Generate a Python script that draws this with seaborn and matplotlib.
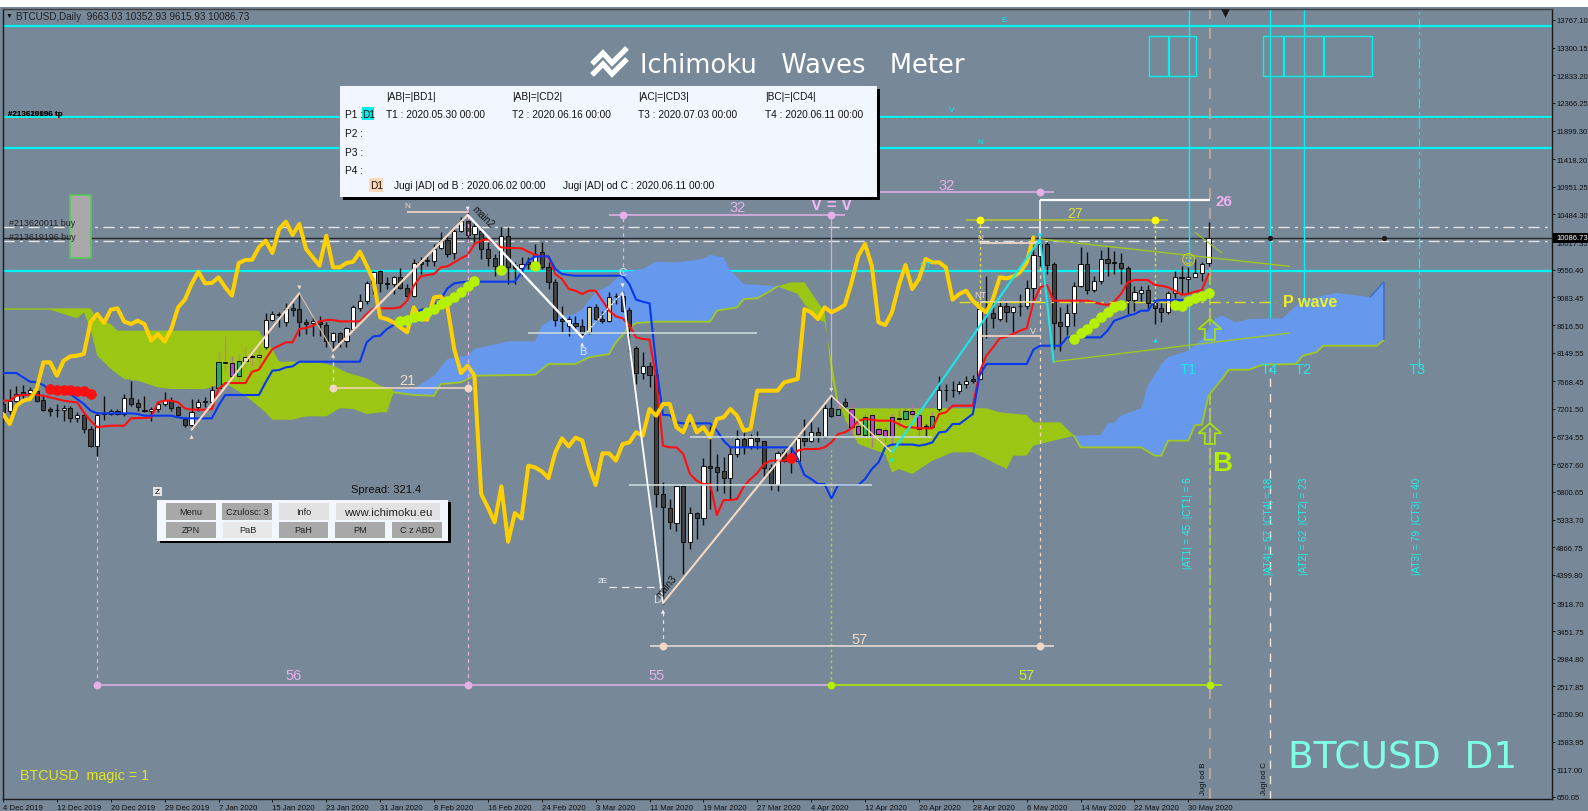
import numpy as np
import pandas as pd
import seaborn as sns
import matplotlib.pyplot as plt
from matplotlib.lines import Line2D
from matplotlib.patches import Rectangle, FancyArrow

sns.set_theme(style="white")
plt.rcParams['font.family'] = ['Liberation Sans', 'DejaVu Sans']

# %% candles
opens = [7284,7160,7340,7481,7470,7509,7357,7199,7188,7182,
         7216,7053,7098,6862,6580,7126,7120,7160,7109,7379,
         7295,7182,7160,7194,7289,7357,7228,7031,6929,7233,
         7312,7323,7548,7987,7976,7762,8015,8072,8083,8240,
         8707,8803,8662,8899,8887,8674,8651,8674,8623,8353,
         8482,8342,8550,8904,9017,9326,9523,9326,9315,9422,
         9242,9113,9675,9692,9703,9917,10052,9833,10210,10379,
         10154,10210,9900,9748,9608,10125,9630,9574,9686,9675,
         9844,9591,9349,8718,8606,8651,8606,8494,8916,8718,
         8690,9101,9113,8870,8229,7802,7931,7779,5764,5522,
         5275,5905,4948,5438,5354,6243,6214,6147,6029,6440,
         6693,6569,6704,6653,6203,5916,6468,6423,6327,6704,
         6665,6817,6721,7211,7098,7312,7199,6918,6760,7098,
         6862,6850,7059,7053,7031,7171,7098,6918,6890,7199,
         7526,7526,7509,7621,7706,7706,8859,8814,8718,8933,
         8831,8944,8933,9236,9788,9985,9647,8662,8606,8814,
         9281,9641,9214,9366,9731,9686,9664,9580,9039,9158,
         9208,8989,8899,8842,9152,9422,9394,9422,9490,9664]
closes = [7143,7340,7453,7453,7526,7340,7188,7171,7177,7211,
          7053,7098,6862,6580,7098,7109,7160,7109,7379,7284,
          7239,7171,7199,7278,7357,7222,7098,6929,7143,7312,
          7340,7526,7987,7976,7762,8015,8072,8100,8111,8707,
          8803,8786,8887,8876,8674,8634,8690,8634,8342,8477,
          8336,8561,8916,9017,9321,9518,9326,9315,9422,9236,
          9101,9658,9653,9715,9900,10041,9816,10210,10379,10137,
          10294,9900,9748,9608,10125,9591,9574,9647,9641,9816,
          9591,9349,8707,8690,8718,8606,8465,8916,8718,8690,
          9084,9113,8859,8606,7802,7931,7779,5764,5539,5286,
          5894,4948,5438,5354,6243,6203,6141,6029,6440,6693,
          6569,6704,6665,6203,5933,6451,6327,6344,6704,6665,
          6817,6738,7210,7087,7199,7256,6890,6777,7059,6749,
          6777,6749,6749,7031,7171,7115,6862,6873,7087,7526,
          7515,7515,7621,7678,7678,8887,8831,8730,8944,8842,
          8916,8933,9236,9799,9985,9636,8651,8606,8814,9281,
          9641,9214,9366,9731,9664,9664,9580,9039,9169,9208,
          8983,8899,8842,9152,9422,9405,9422,9490,9653,10080]
highs = [7762,7537,7593,7605,7565,7650,7424,7239,7284,7267,
         7256,7154,7115,6918,7143,7424,7199,7199,7453,7678,
         7368,7413,7228,7312,7481,7396,7256,7059,7368,7368,
         7396,7593,8184,8437,8100,8128,8268,8212,8240,8820,
         8859,8831,8989,8989,9141,8719,8747,8775,8662,8494,
         8494,8578,8955,9141,9366,9535,9551,9422,9450,9574,
         9309,9731,9760,9816,9985,10182,10125,10266,10435,10576,
         10379,10266,10013,9816,10266,10277,9675,9760,9760,9985,
         10013,9675,9394,8944,8775,8775,8718,8944,8972,8859,
         9169,9152,9197,8916,8268,8156,7998,7875,5961,5680,
         5916,5916,5539,5455,6366,6907,6440,6383,6580,6850,
         6805,6777,6833,6665,6271,6496,6524,6580,6721,7030,
         6974,6890,7284,7424,7368,7379,7301,7002,7115,7115,
         6890,6890,7115,7199,7228,7284,7143,6946,7143,7762,
         7621,7678,7678,7762,7773,8916,9450,9056,9028,9000,
         8944,9141,9383,9985,10125,10013,9675,8916,8972,9338,
         9928,9844,9450,9883,9928,9872,9833,9608,9281,9281,
         9293,9056,9000,9197,9535,9608,9591,9731,9675,10353]
lows = [7115,7115,7312,7368,7453,7312,7171,7087,7059,7002,
        6974,6974,6794,6552,6400,7019,7098,7098,7087,7256,
        7171,7143,7002,7143,7256,7171,7087,6890,6890,7171,
        7228,7284,7526,7847,7706,7650,7903,7931,7903,8212,
        8690,8578,8606,8775,8437,8465,8437,8437,8240,8184,
        8240,8240,8522,8859,8972,9141,9169,9225,9141,9225,
        9084,9084,9478,9619,9619,9900,9760,9731,10182,10041,
        10013,9731,9619,9450,9478,9309,9309,9450,9563,9619,
        9563,9225,8606,8494,8437,8550,8409,8465,8662,8651,
        8662,8972,8831,8156,7621,7706,7565,5539,3907,5173,
        5145,4414,4836,5005,5241,5511,5821,5776,5680,6383,
        6440,6524,6524,6046,5838,5821,6299,6119,6299,6580,
        6637,6637,6704,7059,7031,7199,6749,6721,6749,6552,
        6637,6637,6580,6890,7002,7059,6738,6749,6873,7171,
        7340,7396,7453,7548,7638,7706,8392,8561,8690,8662,
        8505,8764,8887,9045,9619,9478,8212,8184,8449,8606,
        9253,9141,9169,9309,9450,9478,9309,8803,8859,9011,
        8870,8634,8662,8803,9068,9141,9141,9422,9366,9616]

green_bars = [32,35,124,128,134,138]
magenta_bars = [34,126,127,129,130,131,132,133,135,136]
tan_bars = [33,36,37,38,87,90]

# %% indicator lines
tenkan = [7340,7340,7424,7436,7436,7436,7424,7396,7368,7340,
          7323,7312,7143,7002,6890,6907,6918,6918,6918,7042,
          7047,7047,7059,7312,7340,7340,7312,7211,7188,7188,
          7188,7199,7537,7638,7638,7638,7638,7830,7863,8043,
          8212,8268,8325,8325,8550,8567,8606,8679,8702,8702,
          8679,8679,8679,8679,8803,8899,8899,8899,8899,8916,
          9028,9281,9439,9461,9478,9591,9608,9675,9743,9799,
          9985,10041,10069,9985,9928,9917,9917,9912,9855,9799,
          9777,9771,9478,9394,9225,9197,9141,9197,9197,9028,
          8859,8764,8730,8606,8409,8381,8370,7706,6580,6552,
          6552,6440,6102,5989,5933,5933,5410,5663,5663,5680,
          5894,6018,6119,6271,6327,6327,6327,6366,6496,6524,
          6524,6524,6552,6636,6777,6805,6873,7002,7030,7019,
          7002,7002,7002,6946,6890,6890,6873,6873,6873,7115,
          7143,7256,7256,7256,7256,7818,8100,8240,8392,8420,
          8465,8522,8561,9000,9253,9293,9028,9028,9028,9028,
          9028,9028,9000,8972,8955,9011,9141,9338,9377,9377,
          9377,9293,9281,9253,9197,9129,9141,9180,9208,9478]
kijun = [7807,7807,7807,7734,7661,7650,7604,7509,7481,7469,
         7453,7368,7284,7171,7126,7126,7126,7126,7126,7126,
         7115,7087,7087,7087,7087,7087,7059,7042,7042,7042,
         7042,7042,7256,7436,7436,7436,7436,7436,7436,7650,
         7847,7858,7903,7920,7998,7998,7998,7998,7998,7998,
         7998,7998,7998,7998,8325,8426,8437,8550,8617,8634,
         8662,8803,8870,8899,8944,9056,9236,9321,9338,9349,
         9349,9349,9349,9349,9349,9349,9349,9506,9703,9771,
         9777,9777,9563,9478,9461,9450,9450,9450,9450,9450,
         9450,9450,9450,9309,9045,9011,8983,7931,7098,7098,
         6974,6957,6957,6957,6957,6957,6833,6665,6552,6552,
         6552,6552,6552,6552,6552,6552,6552,6552,6366,6085,
         6018,5933,5933,5691,5916,5916,5916,5916,6018,6186,
         6299,6552,6600,6600,6600,6600,6580,6600,6637,6806,
         6817,6946,6946,7031,7115,7762,7959,7959,7959,7959,
         7959,7959,7959,8201,8268,8268,8268,8268,8409,8409,
         8409,8409,8409,8409,8522,8690,8730,8775,8803,8859,
         8859,9028,9039,9039,9039,9039,9039,9028]
chikou = [7115,6946,7256,7340,7368,7537,7987,7987,7762,8015,
          8088,8100,8128,8662,8803,8651,8876,8899,8674,8634,
          8690,8634,8353,8465,8336,8550,8916,9045,9309,9518,
          9321,9326,9422,9253,9113,9664,9715,9720,9928,10041,
          9833,10238,10362,10137,10322,9900,9760,9619,10125,9591,
          9591,9664,9686,9855,9619,9366,8747,8718,8662,8578,
          8494,8916,8718,8707,9084,9101,8916,8212,7807,7931,
          7762,5764,5539,5286,5893,4959,5443,5353,6242,6214,
          6147,6034,6467,6704,6569,6715,6670,6242,5916,6451,
          6451,6327,6608,6637,6806,6749,7199,7087,7284,7284,
          6890,6806,7087,6806,6890,6721,7031,7059,7199,7087,
          6834,6862,7509,7509,7509,7509,7650,7678,7706,8887,
          8831,8718,8916,8831,8887,8955,9338,9788,9985,9619,
          8662,8617,8831,9281,9630,9225,9394,9732,9675,9675,
          9591,9045,9141,9197,9028,8916,8831,9056,9422,9405,
          9433,9506,9675,10097]

# %% kumo cloud, one polygon per colour change
cloud_a_bars = [0,13,14,16,17,38,39,40,41,44,47,49,51,54,56,58]
cloud_a_top = [8899,8899,8719,8634,8522,8522,8325,8212,7998,7998,7987,7931,7818,7717,7593,7526]
cloud_a_low_bars = [0,7,11,12,13,14,16,18,20,23,25,30,33,36,39,40,43,45,48,50,52,54,56,57,58]
cloud_a_low = [8876,8876,8730,8831,8550,8100,7875,7706,7678,7565,7537,7537,7638,7424,7143,7019,7019,7075,7075,7211,7199,7115,7143,7143,7481]

cloud_b_bars = [58,61,64,66,69,70,75,79,80,82,85,86,88,90,92,95,97,100,104,105,107,108,110,115]
cloud_b_top = [7526,7537,7762,8043,8100,8212,8342,8342,8606,8747,8803,8887,9169,9281,9506,9563,9686,9675,9732,9799,9760,9535,9309,9270]
cloud_b_low_bars = [58,61,64,65,68,70,79,81,85,87,90,91,93,94,97,105,106,109,110,112,114,115]
cloud_b_low = [7481,7436,7424,7621,7650,7762,7779,7959,7959,8072,8128,8325,8578,8651,8674,8674,8859,8916,9056,9068,9197,9270]

cloud_c_bars = [115,117,119,120,122,123,124,146,148,152,153,157,159]
cloud_c_top = [9270,9338,9338,9169,8831,7762,7211,7211,7143,7098,6974,6974,6749]
cloud_c_low_bars = [115,118,119,121,122,123,124,125,127,131,132,133,135,138,141,144,149,150,152,153,155,159]
cloud_c_low = [9270,9141,8972,8719,8662,8043,7368,7031,6609,6440,6130,6186,6102,6327,6468,6468,6186,6412,6412,6580,6637,6749]

cloud_d_bars = [159,163,164,165,166,169,170,172,173,176,178,180,181,183,185,190,192,194,196,198,203,205]
cloud_d_top = [6749,6760,6946,6974,7087,7211,7593,7959,8072,8184,8381,8719,8775,8662,8719,8730,8944,9056,9113,9157,9090,9343]
cloud_d_low_bars = [159,160,169,171,172,173,176,177,178,179,181,182,185,187,192,193,195,196,204,205]
cloud_d_low = [6749,6552,6552,6412,6412,6665,6665,6929,6929,7424,7706,7863,7863,7948,7959,8100,8156,8268,8268,8360]

# %% dots
lime_dot_bars = [59,60,61,62,63,64,65,66,67,68,69,70,74,79,159,160,161,162,163,164,165,166,174,175,176,177,178,179]
lime_dot_prices = [8690,8707,8747,8775,8831,8887,8972,9028,9084,9169,9270,9366,9551,9619,
                   8381,8477,8550,8651,8747,8831,8916,8955,8955,8944,9028,9068,9113,9152]
red_dot_bars = [7,8,9,10,11,12,13]
red_dot_prices = [7537,7526,7514,7514,7503,7498,7453]
red_big_bar = [117]
red_big_price = [6366]

# %% levels and waves
cyan_levels = [13664,12123,11605,9529]
order_levels = [10267,10035]
last_price = 10086.73
t_bars = [176.1,188.2,193.2]
t3_bar = 210.2
t4_bar = 188.2
jugi_bar = 179.2
wave_bars = [28,44,49,69,86,92,98,123,132,154,156]
wave_prices = [6850,9153,8183,10474,8410,9169,3925,7424,6468,10069,7988]

ytick_vals = [13767.10,13300.15,12833.20,12366.25,11899.30,11418.20,10951.25,10484.30,10017.35,9550.40,
              9083.45,8616.50,8149.55,7668.45,7201.50,6734.55,6267.60,5800.65,5333.70,4866.75,
              4399.80,3918.70,3451.75,2984.80,2517.85,2050.90,1583.95,1117.00,650.05]
xtick_labels = ["4 Dec 2019","12 Dec 2019","20 Dec 2019","29 Dec 2019","7 Jan 2020","15 Jan 2020",
                "23 Jan 2020","31 Jan 2020","8 Feb 2020","16 Feb 2020","24 Feb 2020","3 Mar 2020",
                "11 Mar 2020","19 Mar 2020","27 Mar 2020","4 Apr 2020","12 Apr 2020","20 Apr 2020",
                "28 Apr 2020","6 May 2020","14 May 2020","22 May 2020","30 May 2020"]

W, H = 1588, 812
BG = "#778899"
PINK = "#E6B0E6"
PEACH = "#F5D8C4"
LIME = "#B4F000"
OLIVE = "#A0C820"
AQUA = "#00F4F4"

fig = plt.figure(figsize=(W / 100, H / 100), dpi=100, facecolor=BG)
ax = fig.add_axes([3 / W, (H - 800) / H, 1549 / W, 790 / H], facecolor=BG)
ax.set_xlim(0.015, 230.0)
ax.set_ylim(616, 13952)


def label(px, py, s, color="k", size=7.3, ha="left", va="center", **kw):
    return fig.text(px / W, 1 - py / H, s, color=color, fontsize=size, ha=ha, va=va, **kw)


def box(x0, y0, x1, y1, fc, ec="none", lw=0, z=5):
    fig.add_artist(Rectangle((x0 / W, 1 - y1 / H), (x1 - x0) / W, (y1 - y0) / H, fc=fc, ec=ec, lw=lw,
                             transform=fig.transFigure, zorder=z))


# %% horizontal levels
ax.hlines(cyan_levels, 0, 230, color=AQUA, lw=1.6, zorder=1)
ax.hlines(cyan_levels[1] - 15, 0, 230, color="#E05020", lw=0.6, ls=(0, (3, 3)), zorder=0.9)
ax.hlines(order_levels, 0, 229.3, color="#E4E4E4", lw=1, ls=(0, (8, 4, 2, 4)), zorder=1)
ax.hlines(last_price, 0, 230, color="#2A2A2A", lw=1, zorder=1)

# %% cloud
for bx, top, lx, low, c in [(cloud_a_bars, cloud_a_top, cloud_a_low_bars, cloud_a_low, "#9BC613"),
                            (cloud_b_bars, cloud_b_top, cloud_b_low_bars, cloud_b_low, "#6699EE"),
                            (cloud_c_bars, cloud_c_top, cloud_c_low_bars, cloud_c_low, "#9BC613"),
                            (cloud_d_bars, cloud_d_top, cloud_d_low_bars, cloud_d_low, "#6699EE")]:
    ax.fill(list(bx) + list(lx)[::-1], list(top) + list(low)[::-1], color=c, lw=0, zorder=2)
ax.plot(cloud_b_low_bars, cloud_b_low, color=OLIVE, lw=1.3, zorder=2.1)
ax.plot(cloud_d_low_bars, cloud_d_low, color=OLIVE, lw=1.3, zorder=2.1)
ax.plot(cloud_d_bars[-2:], cloud_d_top[-2:], color="#4472C4", lw=1.2, zorder=2.1)
ax.vlines(cloud_d_bars[-1], cloud_d_low[-1], cloud_d_top[-1], color="#4472C4", lw=1.2, zorder=2.1)

# %% candles
df = pd.DataFrame({"open": opens, "close": closes, "high": highs, "low": lows})
df["bar"] = df.index
df["body"] = np.where(df.close > df.open, "#FFFFFF", "#404040")
df["wick"] = "#101010"
df.loc[green_bars, "body"] = "#2EA866"
df.loc[magenta_bars, "body"] = "#C040D0"
df.loc[tan_bars, "body"] = "#E8DCA0"
df.loc[[32, 33, 34, 35, 36, 37, 38], "wick"] = "#B89068"
df.loc[magenta_bars + [124, 128, 134, 138], "wick"] = "#B070A8"
ax.vlines(df.bar, df.low, df.high, color=df.wick, lw=1.0, zorder=3)
ax.bar(df.bar, (df.close - df.open).abs(), bottom=df[["open", "close"]].min(axis=1), width=0.62,
       color=df.body, edgecolor="#101010", lw=0.7, zorder=3.1)

# %% indicators
lines_df = pd.concat([
    pd.DataFrame({"bar": np.arange(len(tenkan)), "price": tenkan, "name": "tenkan"}),
    pd.DataFrame({"bar": np.arange(len(kijun)), "price": kijun, "name": "kijun"}),
])
sns.lineplot(data=lines_df, x="bar", y="price", hue="name", palette={"tenkan": "#FF1010", "kijun": "#0838F0"},
             estimator=None, sort=False, lw=1.5, legend=False, ax=ax, zorder=4)
sns.lineplot(x=np.arange(len(chikou)), y=chikou, color="#FFD000", lw=2.9, estimator=None, ax=ax, zorder=4.2)
ax.set(xlabel="", ylabel="")

sns.scatterplot(x=lime_dot_bars, y=lime_dot_prices, color="#B4F000", s=58, lw=0, ax=ax, zorder=4.5)
sns.scatterplot(x=red_dot_bars, y=red_dot_prices, color="#FF1010", s=58, lw=0, ax=ax, zorder=4.5)
sns.scatterplot(x=red_big_bar, y=red_big_price, color="#FF1010", s=58, lw=0, ax=ax, zorder=4.5)

# %% wave lines
wave_styles = [(PEACH, 1.5, "-"), ("#D8C0A8", 0.8, "-"), (PEACH, 1.6, "-"), ("#FFFFFF", 1.7, "-"),
               ("#FFFFFF", 0.8, (0, (2, 1))), ("#FFFFFF", 1.3, "-"), (PEACH, 1.5, "-"), (PEACH, 1.0, "-"),
               ("#18E8E8", 1.5, "-"), ("#18E8E8", 1.5, "-")]
for i, (c, lw, ls) in enumerate(wave_styles):
    ax.plot(wave_bars[i:i + 2], wave_prices[i:i + 2], color=c, lw=lw, ls=ls, zorder=4.6)

# wedge around the last swing
ax.plot([154, 191], [10069, 9608], color=OLIVE, lw=1, zorder=4.6)
ax.plot([156, 191], [7998, 8482], color=OLIVE, lw=1, zorder=4.6)
ax.plot([177, 181], [10180, 9833], color=OLIVE, lw=0.8, zorder=4.6)

# levels of the swing points
ax.hlines(8488, 78, 112, color="#C8D8D8", lw=1.2, zorder=4.4)
ax.hlines(6727, 102, 138, color="#C8D8D8", lw=1.2, zorder=4.4)
ax.hlines(5917, 93, 129, color="#C8D8D8", lw=1.2, zorder=4.4)
ax.hlines(10520, 60, 69, color=PEACH, lw=1.2, zorder=4.4)
ax.hlines(4200, 90, 98, color="#E8E8E8", lw=0.9, ls=(0, (6, 4)), zorder=4.4)
ax.hlines([10002, 9011, 8437], 145, 154, color=PEACH, lw=1.2, zorder=4.4)

# measured legs
ax.hlines(2547, 14, 123, color=PINK, lw=1.1, zorder=4.4)
ax.hlines(2547, 123, 181, color=LIME, lw=1.1, zorder=4.4)
ax.hlines(10474, 90, 125, color=PINK, lw=1.1, zorder=4.4)
ax.hlines(10857, 123, 156, color=PINK, lw=1.1, zorder=4.4)
ax.hlines(10732, 154, 179.2, color="#FFFFFF", lw=1.6, zorder=4.4)
ax.hlines(3195, 96, 156, color="#EAE4DC", lw=1.1, zorder=4.4)
ax.hlines(7554, 49, 69, color=PEACH, lw=1.1, zorder=4.4)
ax.hlines(10385, 143, 173, color="#C0C820", lw=1.1, zorder=4.4)
ax.hlines(9011, 142, 189, color="#E0E020", lw=1, ls=(0, (8, 4, 2, 4)), zorder=4.4)

dots = [([14, 69], 2547, PINK), ([123, 179.2], 2547, LIME), ([92, 123], 10474, PINK), ([154], 10857, PINK),
        ([98, 154], 3195, PEACH), ([49, 69], 7554, PEACH), ([145, 171], 10385, "#FFFF00")]
for xs, y, c in dots:
    sns.scatterplot(x=xs, y=[y] * len(xs), color=c, s=32, lw=0, ax=ax, zorder=4.7)

# verticals
DASH = (0, (3, 3))
ax.vlines(14, 2547, 6400, color=PINK, lw=0.9, ls=DASH, zorder=1.5)
ax.vlines(69, 2547, 10640, color=PINK, lw=0.9, ls=DASH, zorder=4.3)
ax.vlines(92, 9480, 10474, color=PINK, lw=0.9, ls=DASH, zorder=4.3)
ax.vlines(123, 7520, 10474, color="#D0B0D8", lw=0.9, zorder=2.5)
ax.vlines(123, 2547, 6500, color="#A8D040", lw=1, ls=(0, (2, 2)), zorder=2.5)
ax.vlines(154, 10069, 10732, color="#FFFFFF", lw=1.1, zorder=4.3)
ax.vlines(154, 3195, 10069, color=PEACH, lw=0.9, ls=DASH, zorder=2.5)
ax.vlines(98, 3195, 3800, color=PEACH, lw=0.9, ls=DASH, zorder=2.5)
ax.vlines(49, 7554, 8070, color=PEACH, lw=0.9, ls=DASH, zorder=4.3)
ax.vlines([145, 171], 8950, 10385, color="#E8E040", lw=1, ls=(0, (2, 2)), zorder=4.3)
ax.vlines(jugi_bar, 616, 13952, color="#B0A8A0", lw=1.6, ls=(0, (5, 4)), zorder=1.4)
ax.vlines(jugi_bar, 2547, 9529, color="#A8D040", lw=1.2, ls=(0, (6, 2, 2, 2)), zorder=1.45)
ax.vlines(t_bars, 8100, 13952, color=AQUA, lw=1, zorder=1.5)
ax.vlines(t3_bar, 7900, 13952, color=AQUA, lw=0.9, ls=(0, (8, 3, 2, 3)), zorder=1.5)
ax.vlines(t4_bar, 616, 7900, color="#F0E4D8", lw=1, ls=(0, (6, 5)), zorder=1.5)

# cyan boxes above T1 and T4
for x0, x1, divs in [(170.2, 177.2, [173.2]), (187.1, 203.2, [190.2, 196.2])]:
    ax.add_patch(Rectangle((x0, 12826), x1 - x0, 13501 - 12826, fc="none", ec=AQUA, lw=1, zorder=2))
    ax.vlines(divs, 12826, 13501, color=AQUA, lw=1.6, zorder=2)

# grey order box
ax.add_patch(Rectangle((9.97, 9754), 3.12, 10812 - 9754, fc="#A9A9A9", ec="#58C858", lw=1.2, zorder=2))

# arrows
for y0 in [8369, 6610]:
    ax.add_patch(FancyArrow(179.2, y0, 0, 350, width=1.5, head_width=3.4, head_length=170,
                            length_includes_head=True, fc="none", ec="#A8E010", lw=1.3, zorder=5))

# pivot ticks and end marks
ax.scatter([28, 49, 86, 98, 132], [6730, 8100, 8290, 3780, 6350], marker="^", s=9, c=[PEACH, PEACH, "#EEE", "#EEE", AQUA], lw=0, zorder=5)
ax.scatter([44, 69, 92, 123, 154], [9250, 10580, 9285, 7520, 10130], marker="v", s=9, c=[PEACH, "#EEE", "#EEE", "#DDD", AQUA], lw=0, zorder=5)
ax.scatter([171], [8360], marker="^", s=8, c=AQUA, lw=0, zorder=5)
ax.scatter([188.1, 205.1], [last_price, last_price], s=14, c="k", lw=0, zorder=5)
ax.scatter([181.5], [13880], marker="v", s=38, c="k", lw=0, zorder=6, clip_on=False)

# %% axes
ax.yaxis.tick_right()
ax.set_yticks(ytick_vals)
ax.set_yticklabels(["%.2f" % v for v in ytick_vals], fontsize=5.5, color="#101010")
ax.set_xticks(np.arange(0, 8 * len(xtick_labels), 8))
ax.set_xticklabels(xtick_labels, fontsize=5.6, color="#101010", ha="left")
ax.tick_params(axis="y", right=True, length=2.5, width=0.7, pad=0.6, color="k")
ax.tick_params(axis="x", bottom=True, length=2.5, width=0.7, pad=0.8, color="k")
for s in ax.spines.values():
    s.set_color("#1A1A1A")
    s.set_linewidth(1)
ax.spines["top"].set_color("#404040")

# %% chart texts
box(0, 0, W, 8, "#FFFFFF", z=1)
box(1553, 234, W, 243.5, "#000000", z=5)
label(1556, 239, "10086.73", color="#FFFFFF", size=5.5, zorder=6)

label(9, 16.5, "\u25BC", color="#111", size=5, ha="center")
label(16, 17, "BTCUSD,Daily  9663.03 10352.93 9615.93 10086.73", color="#202020", size=7.1)
label(8.5, 114.7, "#213620096 tp", color="#111", size=5.8, weight="bold")
label(8.5, 114.7, "#213619196 tp", color="#111", size=5.8, weight="bold")
label(9, 224, "#213620011 buy", color="#222", size=6.4)
label(9, 237.3, "#213619196 buy", color="#222", size=6.4)

label(1004, 21, "E", color=AQUA, size=6, ha="center")
label(952, 111, "V", color=AQUA, size=6, ha="center")
label(980, 143, "N", color=AQUA, size=6, ha="center")

label(293.5, 676, "56", color=PINK, size=10.5, ha="center")
label(657, 676, "55", color=PINK, size=10.5, ha="center")
label(1027, 676, "57", color="#C8F030", size=10.5, ha="center")
label(860, 640, "57", color=PEACH, size=10.5, ha="center")
label(407, 381, "21", color=PEACH, size=10.5, ha="center")
label(737.7, 208, "32", color=PINK, size=10.5, ha="center")
label(946.7, 185.7, "32", color=PINK, size=10.5, ha="center")
label(1074.7, 213.5, "27", color="#E0E030", size=10, ha="center")
label(1224, 201.7, "26", color="#F0B0F0", size=11, ha="center", weight="bold")
label(831.7, 206, "V = V", color="#F0B8F0", size=12, ha="center", weight="bold")
label(1310, 302.7, "P wave", color="#F0F020", size=11.5, ha="center", weight="bold")
label(1222, 464, "B", color=LIME, size=20, ha="center", weight="bold")
label(1188.3, 261, "\u263A", color="#D0D020", size=10.5, ha="center", family="DejaVu Sans")

label(407, 207, "N", color=PEACH, size=6, ha="center")
label(980, 239, "N", color=PEACH, size=6, ha="center")
label(980, 296, "NT", color=PEACH, size=6.5, ha="center")
label(925, 266, "NT", color="#30D8D8", size=6.5, ha="center")
label(1033, 331, "V", color=PEACH, size=6.5, ha="center")
label(582.7, 352, "B", color="#E8E8E8", size=8, ha="center")
label(622.7, 273, "C", color="#E8E8E8", size=8, ha="center")
label(656.7, 600, "D", color="#E0E0E0", size=8, ha="center")
label(602.7, 581.7, "2E", color="#F0F0F0", size=6, ha="center")
label(483, 217, "main2", color="#111", size=7, ha="center", rotation=-45)
label(666.7, 586.7, "main3", color="#111", size=7, ha="center", rotation=50)

for tx, s in [(1188.3, "T1"), (1269.3, "T4"), (1303.3, "T2"), (1417.3, "T3")]:
    label(tx, 370, s, color="#20E8E8", size=10.5, ha="center")
for tx, bottom, s in [(1188.3, 569, "|AT1| = 45  |CT1| = 6"), (1269.3, 575, "|AT4| = 57  |CT4| = 18"),
                      (1304, 575, "|AT2| = 62  |CT2| = 23"), (1417.3, 575, "|AT3| = 79  |CT3| = 40")]:
    label(tx, bottom, s, color="#20F0E8", size=7.2, ha="center", va="bottom", rotation=90)
label(1203.5, 795, "Jugi od B", color="#111", size=5.6, ha="center", va="bottom", rotation=90)
label(1264, 795, "Jugi od C", color="#111", size=5.6, ha="center", va="bottom", rotation=90)

label(1288, 759, "BTCUSD  D1", color="#7FFFE6", size=27, family="DejaVu Sans")
label(20.4, 776, "BTCUSD  magic = 1", color="#E4E420", size=10.3)

# %% logo and title
for dy in [0, 11]:
    fig.add_artist(Line2D(np.array([592, 603, 612, 627]) / W, 1 - (np.array([65, 54, 64, 49]) + dy) / H,
                          color="#FFFFFF", lw=3.8, transform=fig.transFigure, zorder=4,
                          solid_joinstyle="miter", solid_capstyle="butt"))
label(640, 66, "Ichimoku   Waves   Meter", color="#FFFFFF", size=18.5, family="DejaVu Sans")

# %% info panel
box(343, 90, 880, 201, "#000000", z=5)
box(340, 87, 877, 198, "#F2F6FE", z=5.1)
box(361.6, 108, 374.2, 121, "#00F0F0", z=5.2)
box(369, 179.3, 382.6, 192.7, "#FFD8B8", z=5.2)
for tx, s in [(386, "|AB|=|BD1|"), (512, "|AB|=|CD2|"), (638.5, "|AC|=|CD3|"), (764.8, "|BC|=|CD4|")]:
    label(tx, 97.3, s, color="#111", zorder=6)
for tx, s in [(386, "T1 : 2020.05.30 00:00"), (512, "T2 : 2020.06.16 00:00"),
              (638.5, "T3 : 2020.07.03 00:00"), (764.8, "T4 : 2020.06.11 00:00")]:
    label(tx, 115.3, s, color="#111", zorder=6)
for py, s in [(115.3, "P1 :"), (134, "P2 :"), (152.7, "P3 :"), (170.7, "P4 :")]:
    label(344.7, py, s, color="#111", zorder=6)
label(362, 115.3, "D1", color="#111", zorder=6)
label(369.7, 186, "D1", color="#111", zorder=6)
label(394, 186, "Jugi |AD| od B : 2020.06.02 00:00", color="#111", zorder=6)
label(562.7, 186, "Jugi |AD| od C : 2020.06.11 00:00", color="#111", zorder=6)

# %% button panel
box(160, 503, 451, 544, "#000000", z=5)
box(157.3, 500.7, 448.3, 541.7, "#F2F6FE", z=5.1)
box(153.3, 488.3, 162.3, 497.3, "#E4E4E4", z=5.1)
label(157.8, 493, "Z", color="#111", size=6, ha="center", zorder=6)
label(385.7, 490, "Spread: 321.4", color="#111", size=8, ha="center")
buttons = [(166, 216, 504.3, 521, "Menu", "#A8A8A8"), (222.3, 272.3, 504.3, 521, "Czulosc: 3", "#A8A8A8"),
           (279.3, 329, 504.3, 521, "Info", "#E2E2E2"), (335.7, 440, 504.3, 521, "www.ichimoku.eu", "#E2E2E2"),
           (166, 216, 522.7, 539.3, "ZPN", "#A8A8A8"), (223, 272.3, 522.7, 539.3, "PaB", "#E8E8E8"),
           (278.7, 328.3, 522.7, 539.3, "PaH", "#A8A8A8"), (335, 385, 522.7, 539.3, "PM", "#A8A8A8"),
           (392, 441.7, 522.7, 539.3, "C z ABD", "#A8A8A8")]
for x0, x1, y0, y1, s, c in buttons:
    box(x0, y0, x1, y1, c, z=5.2)
    label((x0 + x1) / 2, (y0 + y1) / 2, s, color="#222", size=8.2 if s.startswith("www") else 6.6, ha="center", zorder=6)

fig.savefig("out.png", dpi=100, facecolor=BG)
